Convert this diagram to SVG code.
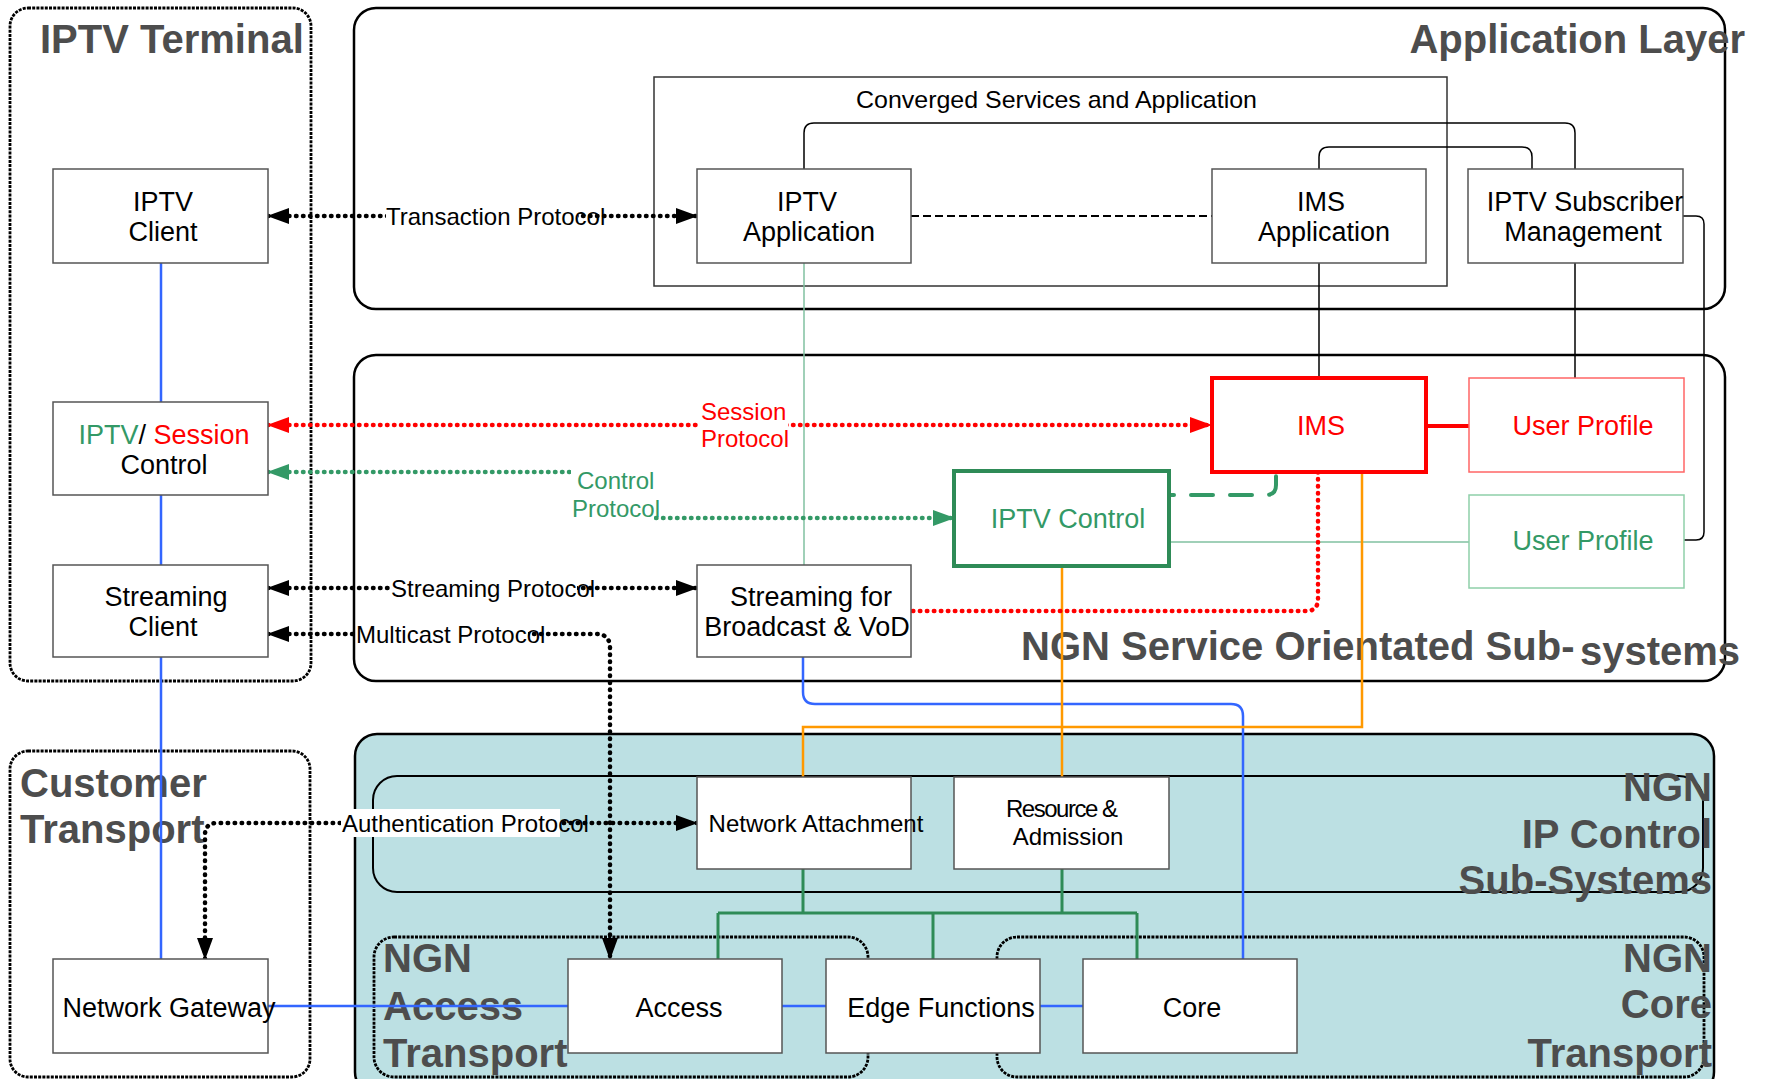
<svg xmlns="http://www.w3.org/2000/svg" width="1767" height="1079" viewBox="0 0 1767 1079">
  <defs>
    <marker id="arrBlack" markerUnits="userSpaceOnUse" markerWidth="22" markerHeight="16" refX="21" refY="8" orient="auto-start-reverse">
      <path d="M0,0 L22,8 L0,16 z" fill="#000"/>
    </marker>
    <marker id="arrRed" markerUnits="userSpaceOnUse" markerWidth="22" markerHeight="16" refX="21" refY="8" orient="auto-start-reverse">
      <path d="M0,0 L22,8 L0,16 z" fill="#ff0000"/>
    </marker>
    <marker id="arrGreen" markerUnits="userSpaceOnUse" markerWidth="22" markerHeight="16" refX="21" refY="8" orient="auto-start-reverse">
      <path d="M0,0 L22,8 L0,16 z" fill="#339966"/>
    </marker>
    <style>
      text { font-family: "Liberation Sans", Arial, sans-serif; }
      .title { font-size: 40px; font-weight: bold; fill: #4d4d4d; }
      .box { fill: #fff; stroke: #555; stroke-width: 1.5; }
      .lbl { font-size: 27px; fill: #000; text-anchor: middle; }
      .lbl-s { font-size: 24px; fill: #000; text-anchor: middle; }
      .conn { font-size: 24px; fill: #000; }
      .frame { fill: none; stroke: #000; stroke-width: 2.5; }
      .dotframe { fill: none; stroke: #000; stroke-width: 2.8; stroke-dasharray: 3 1.2; }
      .proto { fill: none; stroke-width: 4.5; stroke-linecap: round; stroke-dasharray: 0.5 6.5; }
      .thin { fill: none; stroke: #000; stroke-width: 1.5; }
      .blue { fill: none; stroke: #3366ff; stroke-width: 2.5; }
      .orange { fill: none; stroke: #ff9900; stroke-width: 2.5; }
      .tree { fill: none; stroke: #2e8b57; stroke-width: 3; }
      .bg { fill: #fff; }
    </style>
  </defs>

  <!-- layer frames -->
  <g id="frames">
    <rect class="dotframe" x="10" y="8" width="301" height="673" rx="18"/>
    <rect class="dotframe" x="10" y="751" width="300" height="326" rx="18"/>
    <rect class="frame" x="354" y="8" width="1371" height="301" rx="22"/>
    <rect x="654" y="77" width="793" height="209" fill="none" stroke="#333" stroke-width="1.5"/>
    <rect class="frame" x="354" y="355" width="1371" height="326" rx="22"/>
    <rect x="355" y="734" width="1359" height="360" rx="22" fill="#bce0e3" stroke="#000" stroke-width="2.5"/>
    <rect x="373" y="776" width="1330" height="116" rx="24" fill="none" stroke="#000" stroke-width="2"/>
    <rect class="dotframe" x="374" y="937" width="494" height="140" rx="20"/>
    <rect class="dotframe" x="997" y="937" width="707" height="140" rx="20"/>
  </g>

  <!-- layer titles -->
  <g id="titles">
    <text class="title" x="40" y="53">IPTV Terminal</text>
    <text class="title" x="1745" y="53" text-anchor="end">Application Layer</text>
    <text class="conn" x="856" y="108" font-size="26" textLength="401" lengthAdjust="spacingAndGlyphs">Converged Services and Application</text>
    <text class="title" x="1021" y="660">NGN Service Orientated Sub-<tspan x="1580" y="665">systems</tspan></text>
    <text class="title" x="20" y="797">Customer</text>
    <text class="title" x="20" y="843">Transport</text>
    <text class="title" x="1712" y="801" text-anchor="end">NGN</text>
    <text class="title" x="1712" y="848" text-anchor="end">IP Control</text>
    <text class="title" x="1712" y="894" text-anchor="end">Sub-Systems</text>
    <text class="title" x="383" y="972">NGN</text>
    <text class="title" x="383" y="1020">Access</text>
    <text class="title" x="383" y="1067">Transport</text>
    <text class="title" x="1712" y="972" text-anchor="end">NGN</text>
    <text class="title" x="1712" y="1018" text-anchor="end">Core</text>
    <text class="title" x="1712" y="1067" text-anchor="end">Transport</text>
  </g>

  <!-- connectors -->
  <g id="connectors">
    <!-- application layer links -->
    <path class="thin" d="M804,169 V133 Q804,123 814,123 H1565 Q1575,123 1575,133 V169"/>
    <path class="thin" d="M1319,169 V157 Q1319,147 1329,147 H1522 Q1532,147 1532,157 V169"/>
    <path d="M911,216 H1212" fill="none" stroke="#000" stroke-width="2" stroke-dasharray="8 4"/>
    <path class="thin" d="M1319,263 V378"/>
    <path class="thin" d="M1575,263 V378"/>
    <path class="thin" d="M1683,216 H1696 Q1704,216 1704,224 V532 Q1704,540 1696,540 H1684"/>
    <path d="M804,263 V565" fill="none" stroke="#80c0a0" stroke-width="1.5"/>
    <path d="M1169,542 H1469" fill="none" stroke="#80c0a0" stroke-width="1.5"/>

    <!-- terminal internal bus -->
    <path class="blue" d="M161,263 V402 M161,495 V565 M161,657 V959"/>
    <!-- media path -->
    <path class="blue" d="M803,657 V692 Q803,704 815,704 H1231 Q1243,704 1243,716 V959"/>
    <path class="blue" stroke-width="3" d="M268,1006 H568 M782,1006 H826 M1040,1006 H1083"/>

    <!-- resource control -->
    <path class="orange" d="M1362,472 V727 H803 V777"/>
    <path class="orange" d="M1062,566 V777"/>

    <!-- transport control tree -->
    <path class="tree" d="M803,869 V913 M1062,869 V913 M718,913 H1137 M718,913 V959 M933,913 V959 M1137,913 V959"/>

    <!-- IMS links -->
    <path d="M1426,426 H1469" fill="none" stroke="#ff0000" stroke-width="4"/>
    <path d="M1169,495 H1266 Q1276,495 1276,485 V472" fill="none" stroke="#339966" stroke-width="4" stroke-linecap="round" stroke-dasharray="22 17" stroke-dashoffset="17"/>
    <path class="proto" stroke="#ff0000" d="M1318,472 V599 Q1318,611 1306,611 H911"/>

    <!-- protocols -->
    <path class="proto" stroke="#000" d="M268,216 H697" marker-start="url(#arrBlack)" marker-end="url(#arrBlack)"/>
    <rect class="bg" x="386" y="203" width="192" height="27"/>
    <text class="conn" x="386" y="225">Transaction Protocol</text>

    <path class="proto" stroke="#ff0000" d="M268,425 H1211" marker-start="url(#arrRed)" marker-end="url(#arrRed)"/>
    <rect class="bg" x="698" y="404" width="90" height="46"/>
    <text class="conn" style="fill:#ff0000" x="701" y="420">Session</text>
    <text class="conn" style="fill:#ff0000" x="701" y="447">Protocol</text>

    <path class="proto" stroke="#339966" d="M268,472 H615 V518 H954" marker-start="url(#arrGreen)" marker-end="url(#arrGreen)"/>
    <rect class="bg" x="571" y="466" width="83" height="56"/>
    <text class="conn" style="fill:#339966" x="577" y="489">Control</text>
    <text class="conn" style="fill:#339966" x="572" y="517">Protocol</text>

    <path class="proto" stroke="#000" d="M268,588 H697" marker-start="url(#arrBlack)" marker-end="url(#arrBlack)"/>
    <rect class="bg" x="391" y="576" width="186" height="26"/>
    <text class="conn" x="391" y="597">Streaming Protocol</text>

    <path class="proto" stroke="#000" d="M268,634 H596 Q610,634 610,648 V959" marker-start="url(#arrBlack)" marker-end="url(#arrBlack)"/>
    <rect class="bg" x="356" y="622" width="172" height="26"/>
    <text class="conn" x="356" y="643">Multicast Protocol</text>

    <path class="proto" stroke="#000" d="M205,959 V835 Q205,823 217,823 H697" marker-start="url(#arrBlack)" marker-end="url(#arrBlack)"/>
    <rect class="bg" x="341" y="809" width="219" height="28"/>
    <text class="conn" x="342" y="832">Authentication Protocol</text>
  </g>

  <!-- nodes -->
  <g id="iptv-client">
    <rect class="box" x="53" y="169" width="215" height="94"/>
    <text class="lbl" x="163" y="211">IPTV</text>
    <text class="lbl" x="163" y="241">Client</text>
  </g>
  <g id="session-control">
    <rect class="box" x="53" y="402" width="215" height="93"/>
    <text class="lbl" x="164" y="444"><tspan fill="#339966">IPTV</tspan>/ <tspan fill="#ff0000">Session</tspan></text>
    <text class="lbl" x="164" y="474">Control</text>
  </g>
  <g id="streaming-client">
    <rect class="box" x="53" y="565" width="215" height="92"/>
    <text class="lbl" x="166" y="606">Streaming</text>
    <text class="lbl" x="163" y="636">Client</text>
  </g>
  <g id="network-gateway">
    <rect class="box" x="53" y="959" width="215" height="94"/>
    <text class="lbl" x="169" y="1017">Network Gateway</text>
  </g>
  <g id="iptv-application">
    <rect class="box" x="697" y="169" width="214" height="94"/>
    <text class="lbl" x="807" y="211">IPTV</text>
    <text class="lbl" x="809" y="241">Application</text>
  </g>
  <g id="ims-application">
    <rect class="box" x="1212" y="169" width="214" height="94"/>
    <text class="lbl" x="1321" y="211">IMS</text>
    <text class="lbl" x="1324" y="241">Application</text>
  </g>
  <g id="subscriber-management">
    <rect class="box" x="1468" y="169" width="215" height="94"/>
    <text class="lbl" x="1585" y="211">IPTV Subscriber</text>
    <text class="lbl" x="1583" y="241">Management</text>
  </g>
  <g id="ims">
    <rect x="1212" y="378" width="214" height="94" fill="#fff" stroke="#ff0000" stroke-width="4"/>
    <text class="lbl" style="fill:#ff0000" x="1321" y="435">IMS</text>
  </g>
  <g id="user-profile-ims">
    <rect x="1469" y="378" width="215" height="94" fill="#fff" stroke="#ff6666" stroke-width="1.5"/>
    <text class="lbl" style="fill:#ff0000" x="1583" y="435">User Profile</text>
  </g>
  <g id="user-profile-iptv">
    <rect x="1469" y="495" width="215" height="93" fill="#fff" stroke="#8fcfa9" stroke-width="1.5"/>
    <text class="lbl" style="fill:#339966" x="1583" y="550">User Profile</text>
  </g>
  <g id="iptv-control">
    <rect x="954" y="471" width="215" height="95" fill="#fff" stroke="#2e8b57" stroke-width="4"/>
    <text class="lbl" style="fill:#339966" x="1068" y="528">IPTV Control</text>
  </g>
  <g id="streaming-broadcast">
    <rect class="box" x="697" y="565" width="214" height="92"/>
    <text class="lbl" x="811" y="606">Streaming for</text>
    <text class="lbl" x="807" y="636">Broadcast &amp; VoD</text>
  </g>
  <g id="network-attachment">
    <rect class="box" x="697" y="777" width="214" height="92"/>
    <text class="lbl-s" x="816" y="832">Network Attachment</text>
  </g>
  <g id="resource-admission">
    <rect class="box" x="954" y="777" width="215" height="92"/>
    <text class="lbl-s" x="1062" y="817" textLength="112" lengthAdjust="spacing">Resource &amp;</text>
    <text class="lbl-s" x="1068" y="845">Admission</text>
  </g>
  <g id="access">
    <rect class="box" x="568" y="959" width="214" height="94"/>
    <text class="lbl" x="679" y="1017">Access</text>
  </g>
  <g id="edge-functions">
    <rect class="box" x="826" y="959" width="214" height="94"/>
    <text class="lbl" x="941" y="1017">Edge Functions</text>
  </g>
  <g id="core">
    <rect class="box" x="1083" y="959" width="214" height="94"/>
    <text class="lbl" x="1192" y="1017">Core</text>
  </g>
</svg>
